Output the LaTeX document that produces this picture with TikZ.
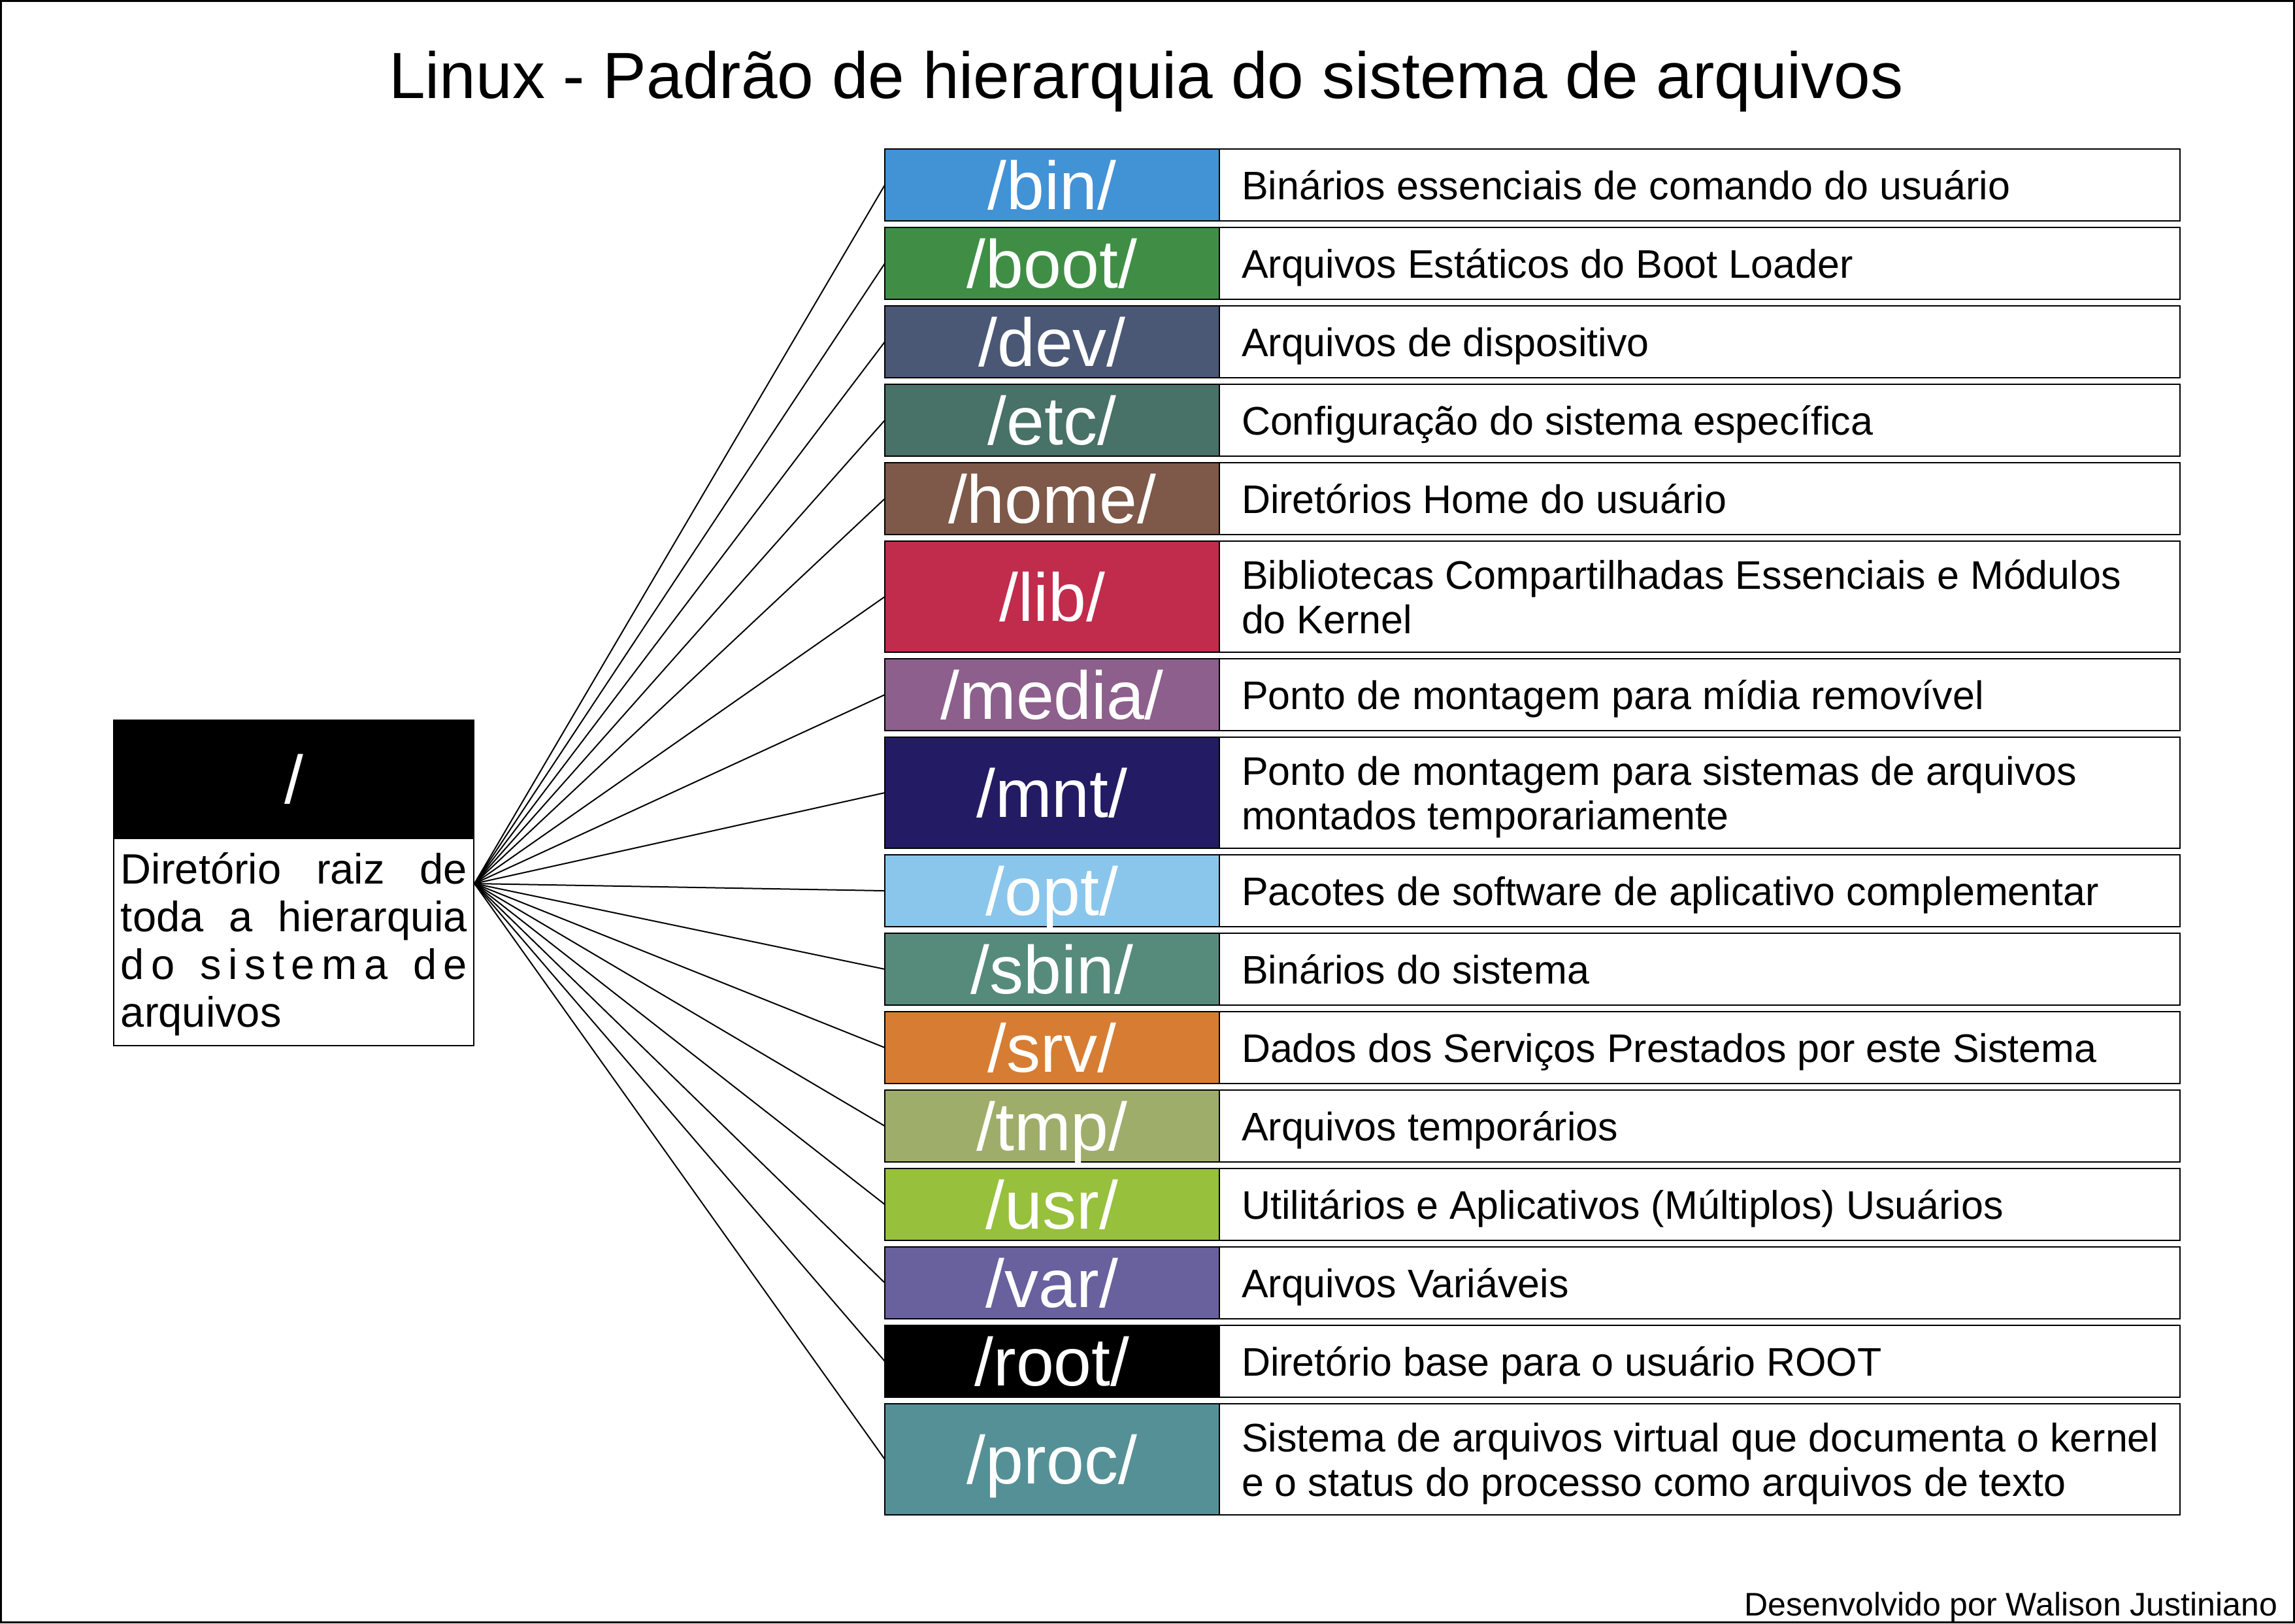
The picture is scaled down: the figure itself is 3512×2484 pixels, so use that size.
\documentclass[tikz,border=0pt]{standalone}
\usepackage{fontspec}
\setmainfont{Liberation Sans}
\definecolor{cbin}{HTML}{4292D6}
\definecolor{cboot}{HTML}{408E45}
\definecolor{cdev}{HTML}{4A5876}
\definecolor{cetc}{HTML}{487167}
\definecolor{chome}{HTML}{7E5848}
\definecolor{clib}{HTML}{C12C4C}
\definecolor{cmedia}{HTML}{8D5F8C}
\definecolor{cmnt}{HTML}{231C64}
\definecolor{copt}{HTML}{8AC6EB}
\definecolor{csbin}{HTML}{568B7C}
\definecolor{csrv}{HTML}{D67D33}
\definecolor{ctmp}{HTML}{9FAD6B}
\definecolor{cusr}{HTML}{97C03C}
\definecolor{cvar}{HTML}{69609E}
\definecolor{cproc}{HTML}{569097}
\tikzset{
  dircell/.style={draw=black, line width=0.25pt, minimum width=51.2pt, inner sep=0pt, outer sep=0pt},
  desccell/.style={draw=black, line width=0.25pt, fill=white, minimum width=147pt, inner sep=0pt, outer sep=0pt},
  dirlabel/.style={anchor=base, inner sep=0pt, text=white, font=\fontsize{10.4}{12}\selectfont},
  desctext/.style={anchor=base west, inner sep=0pt, font=\fontsize{6.1}{7}\selectfont},
  conn/.style={draw=black, line width=0.2pt},
}
\newcommand\fsrow[6]{%
  \node[desccell, minimum height=#4*0.1pt] (#1w) at ({2601},{#3+#4/2}) {};
  \node[dircell, fill=#2, minimum height=#4*0.1pt] (#1) at ({1610},{#3+#4/2}) {};
  \node[dirlabel] (#1l) at ([yshift=-3.7pt]#1.center) {#5};
  \node[desctext] (#1d) at ({1898},{#3+#4/2+22}) {#6};
  \draw[conn] (hub) -- (#1.west);
}
\newcommand\fsrowtwo[7]{%
  \node[desccell, minimum height=#4*0.1pt] (#1w) at ({2601},{#3+#4/2}) {};
  \node[dircell, fill=#2, minimum height=#4*0.1pt] (#1) at ({1610},{#3+#4/2}) {};
  \node[dirlabel] (#1l) at ([yshift=-3.7pt]#1.center) {#5};
  \node[desctext] (#1d) at ({1898},{#3+#4/2-34+22}) {#6};
  \node[desctext] (#1e) at ({1898},{#3+#4/2+34+22}) {#7};
  \draw[conn] (hub) -- (#1.west);
}
\begin{document}
\begin{tikzpicture}[x=0.1pt,y=-0.1pt]
\useasboundingbox (0,0) rectangle (3512,2484);
\fill[white] (0,0) rectangle (3512,2484);
\draw[line width=0.3pt] (1.5,1.5) rectangle (3510.5,2482.5);

\node[anchor=base, inner sep=0pt, font=\fontsize{10}{12}\selectfont] (title) at (1754,150)
  {Linux - Padrão de hierarquia do sistema de arquivos};

% root directory
\node[draw=black, fill=black, line width=0.2pt, minimum width=55.1pt, minimum height=18.1pt, inner sep=0pt, outer sep=0pt] (rootdir) at (449.5,1192.5) {};
\node[dirlabel] (rootlabel) at ([yshift=-3.7pt]rootdir.center) {/};
\node[draw=black, fill=white, line width=0.2pt, minimum width=55.1pt, minimum height=31.7pt, inner sep=0pt, outer sep=0pt] (rootdesc) at (449.5,1441.5) {};
\node[anchor=base west, inner sep=0pt] (roottext) at (183,1352)
  {\fontsize{6.5}{7.3}\selectfont\parbox[t]{53pt}{%
    \makebox[53pt][s]{Diretório raiz de}\\
    \makebox[53pt][s]{toda a hierarquia}\\
    \makebox[53pt][s]{d\hfill o\hfill\ \hfill s\hfill i\hfill s\hfill t\hfill e\hfill m\hfill a\hfill\ \hfill d\hfill e}\\
    arquivos}};
\coordinate (hub) at (726,1352);

\fsrow{bin}{cbin}{228}{110}{/bin/}{Binários essenciais de comando do usuário}
\fsrow{boot}{cboot}{348}{110}{/boot/}{Arquivos Estáticos do Boot Loader}
\fsrow{dev}{cdev}{468}{110}{/dev/}{Arquivos de dispositivo}
\fsrow{etc}{cetc}{588}{110}{/etc/}{Configuração do sistema específica}
\fsrow{home}{chome}{708}{110}{/home/}{Diretórios Home do usuário}
\fsrowtwo{lib}{clib}{828}{170}{/lib/}{Bibliotecas Compartilhadas Essenciais e Módulos}{do Kernel}
\fsrow{media}{cmedia}{1008}{110}{/media/}{Ponto de montagem para mídia removível}
\fsrowtwo{mnt}{cmnt}{1128}{170}{/mnt/}{Ponto de montagem para sistemas de arquivos}{montados temporariamente}
\fsrow{opt}{copt}{1308}{110}{/opt/}{Pacotes de software de aplicativo complementar}
\fsrow{sbin}{csbin}{1428}{110}{/sbin/}{Binários do sistema}
\fsrow{srv}{csrv}{1548}{110}{/srv/}{Dados dos Serviços Prestados por este Sistema}
\fsrow{tmp}{ctmp}{1668}{110}{/tmp/}{Arquivos temporários}
\fsrow{usr}{cusr}{1788}{110}{/usr/}{Utilitários e Aplicativos (Múltiplos) Usuários}
\fsrow{var}{cvar}{1908}{110}{/var/}{Arquivos Variáveis}
\fsrow{droot}{black}{2028}{110}{/root/}{Diretório base para o usuário ROOT}
\fsrowtwo{proc}{cproc}{2148}{170}{/proc/}{Sistema de arquivos virtual que documenta o kernel}{e o status do processo como arquivos de texto}

\node[anchor=base east, inner sep=0pt, font=\fontsize{5}{6}\selectfont] (credit) at (3487,2472)
  {Desenvolvido por Walison Justiniano};
\end{tikzpicture}
\end{document}
